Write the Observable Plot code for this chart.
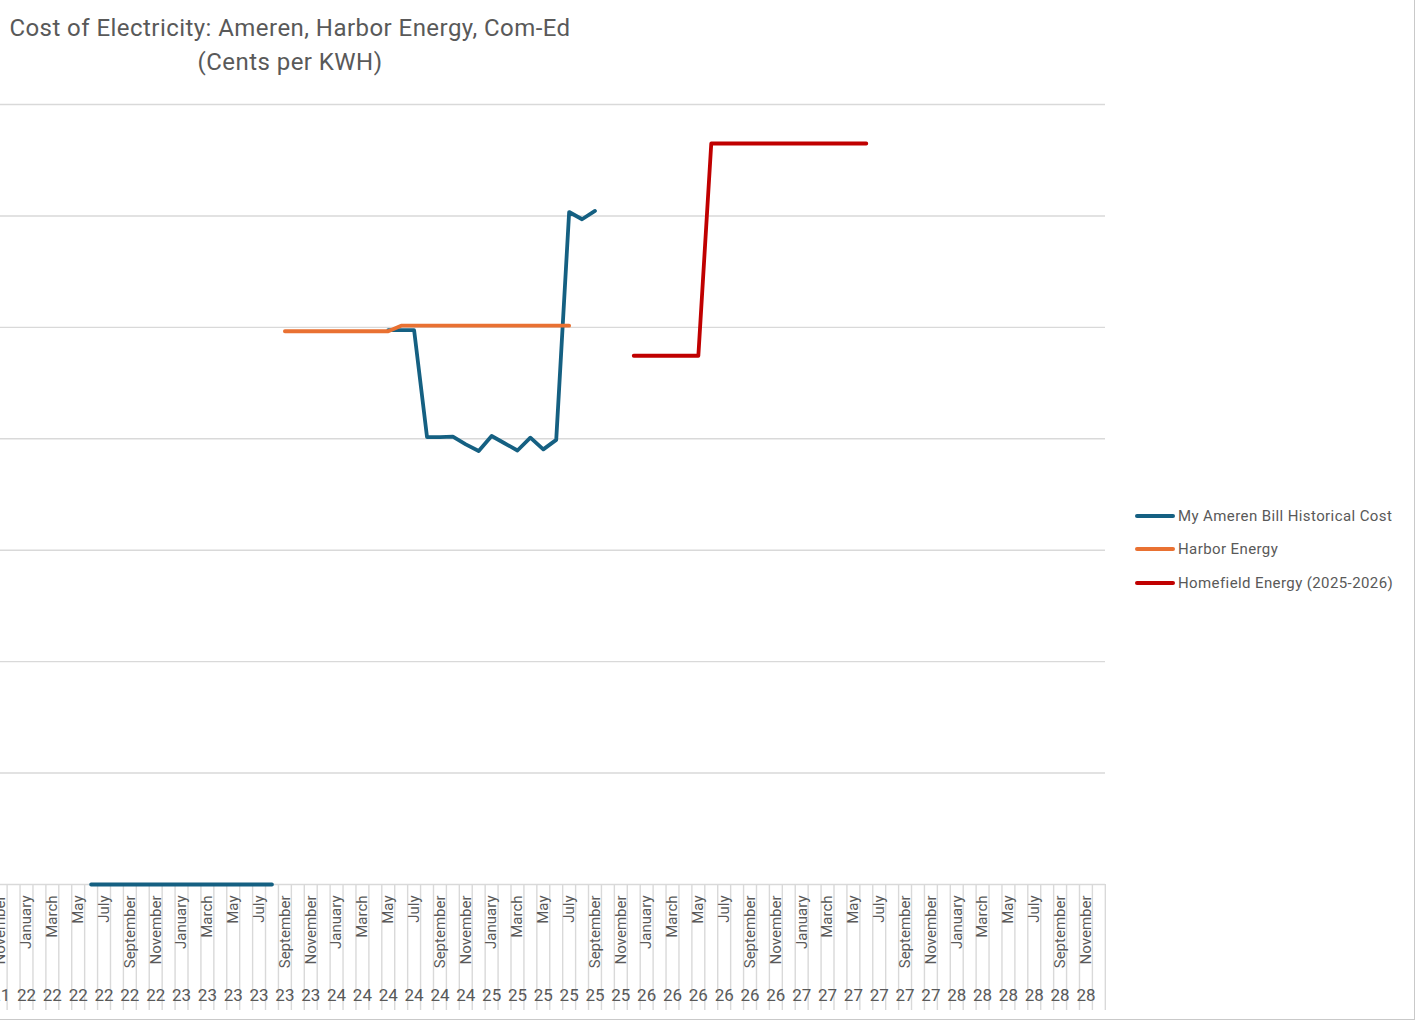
<!DOCTYPE html>
<html>
<head>
<meta charset="utf-8">
<script src="https://cdn.jsdelivr.net/npm/d3@7"></script>
<script src="https://cdn.jsdelivr.net/npm/@observablehq/plot@0.6"></script>
<style>
  body { margin: 0; background: #fff; font-family: Roboto, "Noto Sans", sans-serif; }
  #wrap { position: relative; width: 1418px; height: 1022px; overflow: hidden; background: #fff; }
  #chart { position: absolute; left: 0; top: 0; }
  #title { position: absolute; left: 0; top: 11px; width: 580px; text-align: center;
           font-size: 24px; letter-spacing: 0.45px; line-height: 34px; color: #595959; }
  #legend { position: absolute; left: 1135px; top: 499px; font-size: 15px; letter-spacing: 0.4px; color: #595959; }
  .item { display: flex; align-items: center; height: 33.5px; white-space: nowrap; }
  .sw { width: 40px; height: 4px; border-radius: 2px; margin-right: 3px; }
  #frame { position: absolute; left: -2px; top: -2px; width: 1416px; height: 1021px;
           border-right: 1px solid #c9c9c9; border-bottom: 1px solid #c9c9c9; pointer-events: none; }
</style>
</head>
<body>
<div id="wrap">
  <div id="chart"></div>
  <div id="title">Cost of Electricity: Ameren, Harbor Energy, Com-Ed<br>(Cents per KWH)</div>
  <div id="legend"></div>
  <div id="frame"></div>
</div>
<script>
// ---- Data ----
const years = [2021, 2022, 2023, 2024, 2025, 2026, 2027, 2028];
const monthNames = ["January", "February", "March", "April", "May", "June",
                    "July", "August", "September", "October", "November", "December"];
const yTicks = [0, 2, 4, 6, 8, 10, 12, 14];
const firstVisibleLabel = "2021-11";

const seriesNames = ["My Ameren Bill Historical Cost", "Harbor Energy", "Homefield Energy (2025-2026)"];
const seriesColors = ["#156082", "#E97132", "#C00000"];

// My Ameren Bill Historical Cost (cents per kWh); null = gap
const ameren = [
  ["2022-06", 0], ["2022-07", 0], ["2022-08", 0], ["2022-09", 0], ["2022-10", 0],
  ["2022-11", 0], ["2022-12", 0], ["2023-01", 0], ["2023-02", 0], ["2023-03", 0],
  ["2023-04", 0], ["2023-05", 0], ["2023-06", 0], ["2023-07", 0], ["2023-08", 0],
  ["2023-09", null],
  ["2024-05", 9.95], ["2024-06", 9.95], ["2024-07", 9.95], ["2024-08", 8.03],
  ["2024-09", 8.03], ["2024-10", 8.04], ["2024-11", 7.90], ["2024-12", 7.78],
  ["2025-01", 8.05], ["2025-02", 7.92], ["2025-03", 7.79], ["2025-04", 8.02],
  ["2025-05", 7.81], ["2025-06", 7.98], ["2025-07", 12.07], ["2025-08", 11.94],
  ["2025-09", 12.09]
];

// Harbor Energy
const harbor = [
  ["2023-09", 9.93], ["2023-10", 9.93], ["2023-11", 9.93], ["2023-12", 9.93],
  ["2024-01", 9.93], ["2024-02", 9.93], ["2024-03", 9.93], ["2024-04", 9.93],
  ["2024-05", 9.93], ["2024-06", 10.03], ["2024-07", 10.03], ["2024-08", 10.03],
  ["2024-09", 10.03], ["2024-10", 10.03], ["2024-11", 10.03], ["2024-12", 10.03],
  ["2025-01", 10.03], ["2025-02", 10.03], ["2025-03", 10.03], ["2025-04", 10.03],
  ["2025-05", 10.03], ["2025-06", 10.03], ["2025-07", 10.03]
];

// Homefield Energy (2025-2026)
const homefield = [
  ["2025-12", 9.49], ["2026-01", 9.49], ["2026-02", 9.49], ["2026-03", 9.49],
  ["2026-04", 9.49], ["2026-05", 9.49], ["2026-06", 13.30], ["2026-07", 13.30],
  ["2026-08", 13.30], ["2026-09", 13.30], ["2026-10", 13.30], ["2026-11", 13.30],
  ["2026-12", 13.30], ["2027-01", 13.30], ["2027-02", 13.30], ["2027-03", 13.30],
  ["2027-04", 13.30], ["2027-05", 13.30], ["2027-06", 13.30]
];

// ---- Derived ----
const categories = years.flatMap(y => monthNames.map((_, i) => `${y}-${String(i + 1).padStart(2, "0")}`));
const labelled = categories.filter(k => (+k.slice(5)) % 2 === 1 && k >= firstVisibleLabel);
const toRows = arr => arr.map(([month, value]) => ({month, value}));

// ---- Layout ----
const W = 1418, H = 1022;
const frameTop = 104, frameBottom = 884, frameRight = 1105;
const step = 12.92;              // width of one month category
const jan22Center = 26;          // where January 2022 sits
const idxJan22 = categories.indexOf("2022-01");
const xRange = [jan22Center - step * (idxJan22 + 0.5), jan22Center + step * (categories.length - idxJan22 - 0.5)];
const axisDepthPx = 126;
const yMax = yTicks[yTicks.length - 1];
const axisDepth = -axisDepthPx * yMax / (frameBottom - frameTop);

const grid = "#d9d9d9";

const chart = Plot.plot({
  width: W,
  height: H,
  marginTop: frameTop,
  marginBottom: H - frameBottom,
  marginLeft: 0,
  marginRight: W - frameRight,
  style: {fontFamily: "Roboto, 'Noto Sans', sans-serif", color: "#595959", background: "transparent"},
  x: {type: "point", domain: categories, range: xRange, padding: 0.5, align: 0.5, label: null, axis: null},
  y: {domain: [0, yMax], axis: null, label: null},
  marks: [
    Plot.gridY(yTicks, {stroke: grid, strokeOpacity: 1, strokeWidth: 1.4}),
    Plot.ruleX(categories, {x: d => d, y1: 0, y2: axisDepth, dx: -step / 2, stroke: grid, strokeWidth: 1.4}),
    Plot.ruleX(categories.slice(-1), {x: d => d, y1: 0, y2: axisDepth, dx: step / 2, stroke: grid, strokeWidth: 1.4}),
    Plot.axisX({ticks: labelled, tickSize: 0, tickPadding: 11, tickRotate: -90,
                tickFormat: k => monthNames[+k.slice(5) - 1], fontSize: 15, fill: "#595959", label: null}),
    Plot.axisX({ticks: labelled, tickSize: 0, tickPadding: 104,
                tickFormat: k => k.slice(2, 4), fontSize: 17, fill: "#595959", label: null}),
    Plot.line(toRows(ameren), {x: "month", y: "value", stroke: seriesColors[0], strokeWidth: 3.8,
                               strokeLinecap: "round", strokeLinejoin: "round"}),
    Plot.line(toRows(harbor), {x: "month", y: "value", stroke: seriesColors[1], strokeWidth: 3.8,
                               strokeLinecap: "round", strokeLinejoin: "round"}),
    Plot.line(toRows(homefield), {x: "month", y: "value", stroke: seriesColors[2], strokeWidth: 3.8,
                                  strokeLinecap: "round", strokeLinejoin: "round"})
  ]
});
document.getElementById("chart").appendChild(chart);

// Legend
const legend = document.getElementById("legend");
seriesNames.forEach((name, i) => {
  const item = document.createElement("div");
  item.className = "item";
  const sw = document.createElement("div");
  sw.className = "sw";
  sw.style.background = seriesColors[i];
  const label = document.createElement("span");
  label.textContent = name;
  item.appendChild(sw);
  item.appendChild(label);
  legend.appendChild(item);
});
</script>
</body>
</html>
